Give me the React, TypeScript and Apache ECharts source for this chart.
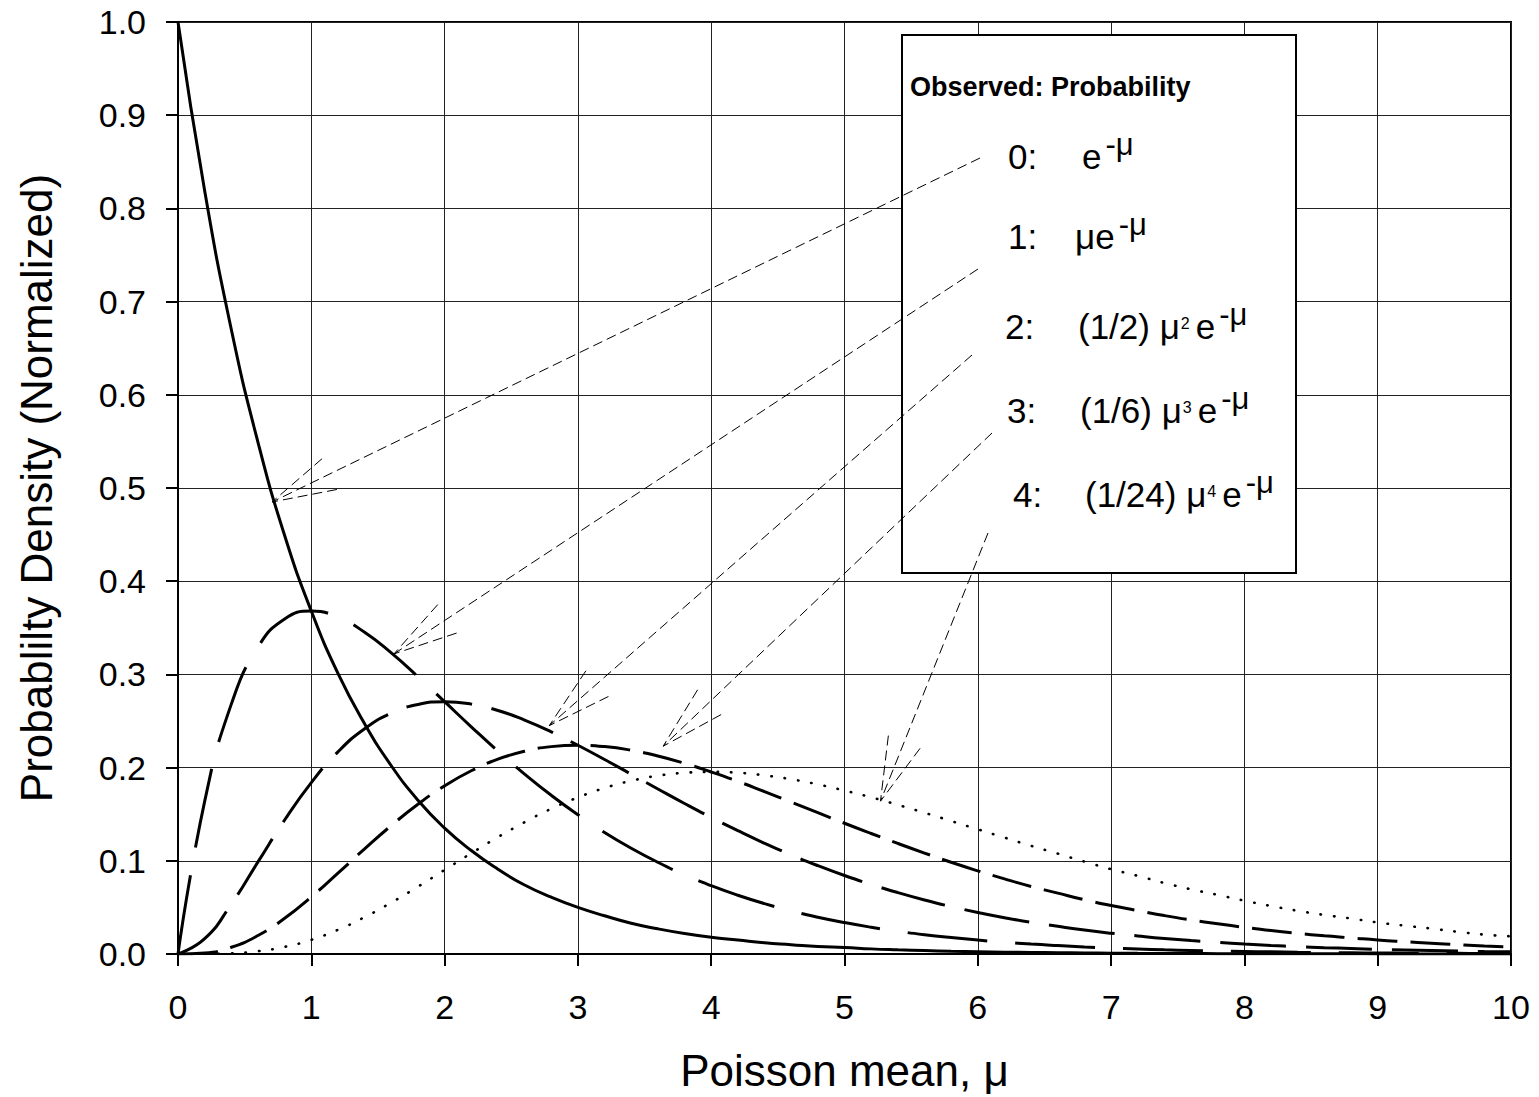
import React, { useEffect, useRef } from "react";
import * as echarts from "echarts";

const FONT = '"Liberation Sans", Arial, Helvetica, sans-serif';

// Poisson mean (x) sample positions
const MU = [0, 0.2, 0.4, 0.6, 0.8, 1, 1.2, 1.4, 1.6, 1.8, 2, 2.2, 2.4, 2.6, 2.8, 3, 3.2, 3.4, 3.6, 3.8, 4, 4.2, 4.4, 4.6, 4.8, 5, 5.2, 5.4, 5.6, 5.8, 6, 6.2, 6.4, 6.6, 6.8, 7, 7.2, 7.4, 7.6, 7.8, 8, 8.2, 8.4, 8.6, 8.8, 9, 9.2, 9.4, 9.6, 9.8, 10];

// Observed 0 : e^-mu
const P0 = [1.0, 0.819, 0.67, 0.549, 0.449, 0.368, 0.301, 0.247, 0.202, 0.165, 0.135, 0.111, 0.091, 0.074, 0.061, 0.05, 0.041, 0.033, 0.027, 0.022, 0.018, 0.015, 0.012, 0.01, 0.008, 0.007, 0.0055, 0.0045, 0.0037, 0.003, 0.0025, 0.002, 0.0017, 0.0014, 0.0011, 0.0009, 0.0007, 0.0006, 0.0005, 0.0004, 0.0003, 0.0003, 0.0002, 0.0002, 0.0002, 0.0001, 0.0001, 0.0001, 0.0001, 0.0001, 0.0];
// Observed 1
const P1 = [0, 0.1637, 0.2681, 0.3293, 0.3595, 0.3679, 0.3614, 0.3452, 0.323, 0.2975, 0.2707, 0.2438, 0.2177, 0.1931, 0.1703, 0.1494, 0.1304, 0.1135, 0.0984, 0.085, 0.0733, 0.063, 0.054, 0.0462, 0.0395, 0.0337, 0.0287, 0.0244, 0.0207, 0.0176, 0.0149, 0.0126, 0.0106, 0.009, 0.0076, 0.0064, 0.0054, 0.0045, 0.0038, 0.0032, 0.0027, 0.0023, 0.0019, 0.0016, 0.0013, 0.0011, 0.0009, 0.0008, 0.0007, 0.0005, 0.0005];
// Observed 2
const P2 = [0, 0.0164, 0.0536, 0.0988, 0.1438, 0.1839, 0.2169, 0.2417, 0.2584, 0.2678, 0.2707, 0.2681, 0.2613, 0.251, 0.2384, 0.224, 0.2087, 0.1929, 0.1771, 0.1615, 0.1465, 0.1323, 0.1188, 0.1063, 0.0948, 0.0842, 0.0746, 0.0659, 0.058, 0.0509, 0.0446, 0.039, 0.034, 0.0297, 0.0257, 0.0223, 0.0194, 0.0167, 0.0144, 0.0125, 0.0107, 0.0092, 0.0079, 0.0068, 0.0059, 0.005, 0.0043, 0.0037, 0.0031, 0.0026, 0.0023];
// Observed 3
const P3 = [0, 0.0011, 0.0072, 0.0198, 0.0383, 0.0613, 0.0868, 0.1128, 0.1378, 0.1607, 0.1804, 0.1966, 0.209, 0.2175, 0.2225, 0.224, 0.2226, 0.2186, 0.2125, 0.2046, 0.1953, 0.1852, 0.1742, 0.163, 0.1517, 0.1403, 0.1293, 0.1186, 0.1083, 0.0984, 0.0892, 0.0806, 0.0725, 0.0653, 0.0583, 0.052, 0.0466, 0.0412, 0.0365, 0.0325, 0.0286, 0.0251, 0.0221, 0.0195, 0.0173, 0.015, 0.0132, 0.0116, 0.0099, 0.0085, 0.0076];
// Observed 4
const P4 = [0, 0.0001, 0.0007, 0.003, 0.0077, 0.0153, 0.026, 0.0395, 0.0551, 0.0723, 0.0902, 0.1081, 0.1254, 0.1414, 0.1558, 0.168, 0.1781, 0.1858, 0.1913, 0.1944, 0.1954, 0.1945, 0.1916, 0.1875, 0.182, 0.1754, 0.1681, 0.1601, 0.1516, 0.1427, 0.1338, 0.1249, 0.116, 0.1077, 0.0991, 0.091, 0.0839, 0.0762, 0.0694, 0.0634, 0.0572, 0.0515, 0.0464, 0.0419, 0.0381, 0.0338, 0.0304, 0.0273, 0.0238, 0.0208, 0.019];

const SERIES_NAMES = ["0", "1", "2", "3", "4"];
const X_TITLE = "Poisson mean, μ";
const Y_TITLE = "Probablilty Density (Normalized)";
const LEGEND_TITLE = "Observed: Probability";

// legend rows: label and formula pieces (kind: n = normal, s = small superscript digit, sup = raised exponent)
const ROW_LABELS = ["0:", "1:", "2:", "3:", "4:"];
const ROW_FORMULAS = [
  [["n", "e"], ["sup", "-μ"]],
  [["n", "μe"], ["sup", "-μ"]],
  [["n", "(1/2) μ"], ["s", "2"], ["n", "e"], ["sup", "-μ"]],
  [["n", "(1/6) μ"], ["s", "3"], ["n", "e"], ["sup", "-μ"]],
  [["n", "(1/24) μ"], ["s", "4"], ["n", "e"], ["sup", "-μ"]],
];
// arrow tips (data coords) on each curve
const ARROW_TIPS = [[0.706, 0.485], [1.62, 0.322], [2.785, 0.245], [3.64, 0.223], [5.27, 0.164]];

// layout (pixels) for the annotation box
const BOX = { x: 902, y: 35, w: 394, h: 538 };
const ROW_BASE = [169, 249, 339, 423, 507];
const ROW_LABEL_X = [1008, 1008, 1005, 1007, 1013];
const ROW_FORMULA_X = [1082, 1075, 1078, 1080, 1085];
const ARROW_TAILS = [[980, 158], [978, 269], [972, 355], [992, 433], [988, 533]];

export default function App() {
  const ref = useRef<HTMLDivElement>(null);
  useEffect(() => {
    document.body.style.margin = "0";
    const el = ref.current!;
    const chart = echarts.init(el, null, { renderer: "svg" });
    const mk = (ys: number[]) => MU.map((x, i) => [x, ys[i]]);
    const dashes: any[] = ["solid", [80, 28], [66, 20], [40, 13], [0.5, 13]];
    const datas = [P0, P1, P2, P3, P4];
    const axisCommon = {
      type: "value",
      nameLocation: "middle",
      axisLine: { show: true, onZero: false, lineStyle: { color: "#000", width: 2 } },
      axisTick: { show: true, inside: false, length: 12, lineStyle: { color: "#000", width: 2 } },
      splitLine: { show: true, lineStyle: { color: "#222", width: 1 } },
    };
    chart.setOption({
      animation: false,
      backgroundColor: "#fff",
      grid: { left: 178, right: 28, top: 22, bottom: 141, show: true, borderColor: "#000", borderWidth: 2, backgroundColor: "transparent" },
      xAxis: {
        ...axisCommon,
        min: 0, max: 10, interval: 1,
        name: X_TITLE, nameGap: 94,
        nameTextStyle: { fontSize: 44, fontFamily: FONT, color: "#000" },
        axisLabel: { fontSize: 34, fontFamily: FONT, color: "#000", margin: 36 },
      },
      yAxis: {
        ...axisCommon,
        min: 0, max: 1, interval: 0.1,
        name: Y_TITLE, nameGap: 120, nameRotate: 90,
        nameTextStyle: { fontSize: 44, fontFamily: FONT, color: "#000" },
        axisLabel: { fontSize: 34, fontFamily: FONT, color: "#000", margin: 32, formatter: (v: number) => v.toFixed(1) },
      },
      series: datas.map((d, i) => ({
        name: SERIES_NAMES[i],
        type: "line",
        data: mk(d),
        symbol: "none",
        smooth: 0.5,
        z: 3,
        lineStyle: { color: "#000", width: i === 4 ? 2.6 : 3, type: dashes[i], cap: i === 4 ? "round" : "butt" },
      })),
    });

    const canvas = document.createElement("canvas");
    const ctx = canvas.getContext("2d")!;
    const measure = (t: string, fs: number, w = "normal") => {
      ctx.font = `${w} ${fs}px "Liberation Sans", Arial, sans-serif`;
      return ctx.measureText(t).width;
    };
    const text = (t: string, x: number, baseline: number, fs: number, weight = "normal") => ({
      type: "text",
      x,
      y: baseline - 0.3465 * fs,
      z: 102,
      style: { text: t, fontSize: fs, fontFamily: FONT, fontWeight: weight, fill: "#000", align: "left", verticalAlign: "middle" },
    });

    const elements: any[] = [];
    elements.push({
      type: "rect",
      z: 100,
      shape: { x: BOX.x, y: BOX.y, width: BOX.w, height: BOX.h },
      style: { fill: "#fff", stroke: "#000", lineWidth: 2 },
    });
    elements.push(text(LEGEND_TITLE, 910, 96, 27, "bold"));
    const FS = 35;
    ROW_LABELS.forEach((lab, r) => {
      const base = ROW_BASE[r];
      elements.push(text(lab, ROW_LABEL_X[r], base, FS));
      let cx = ROW_FORMULA_X[r];
      ROW_FORMULAS[r].forEach(([kind, t]) => {
        if (kind === "n") {
          elements.push(text(t, cx, base, FS));
          cx += measure(t, FS);
        } else if (kind === "s") {
          elements.push(text(t, cx + 1, base - 10, 16));
          cx += measure(t, 16) + 7;
        } else {
          elements.push(text(t, cx + 4, base - 14, 31));
          cx += measure(t, 31) + 4;
        }
      });
    });

    const dash = [10, 5];
    ARROW_TIPS.forEach((tipData, i) => {
      const tip = chart.convertToPixel({ gridIndex: 0 }, tipData) as number[];
      const [sx, sy] = ARROW_TAILS[i];
      elements.push({
        type: "line", z: 101,
        shape: { x1: sx, y1: sy, x2: tip[0], y2: tip[1] },
        style: { stroke: "#000", lineWidth: 1, lineDash: dash },
      });
      const ang = Math.atan2(sy - tip[1], sx - tip[0]);
      [-15, 15].forEach((d) => {
        const a = ang + (d * Math.PI) / 180;
        elements.push({
          type: "line", z: 101,
          shape: { x1: tip[0] + 66 * Math.cos(a), y1: tip[1] + 66 * Math.sin(a), x2: tip[0], y2: tip[1] },
          style: { stroke: "#000", lineWidth: 1, lineDash: dash },
        });
      });
    });

    chart.setOption({ graphic: { elements } });
    return () => chart.dispose();
  }, []);
  return <div ref={ref} style={{ position: "absolute", left: 0, top: 0, width: 1539, height: 1097 }} />;
}
